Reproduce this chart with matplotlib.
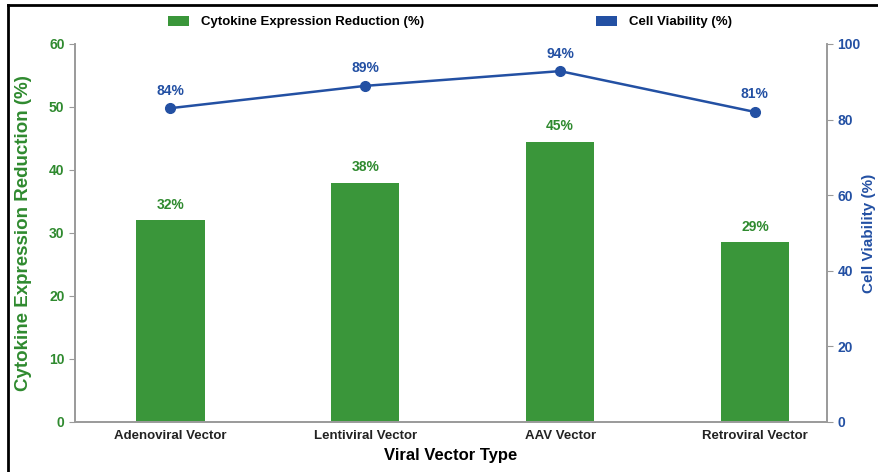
import numpy as np
import matplotlib
matplotlib.use("Agg")
import matplotlib.pyplot as plt
from matplotlib.patches import Patch
from matplotlib.lines import Line2D

categories = ["Adenoviral Vector", "Lentiviral Vector", "AAV Vector", "Retroviral Vector"]
# bar heights / line points
cytokine_reduction = [32, 38, 44.5, 28.6]
cell_viability = [83, 88.9, 92.8, 82]
# value labels as printed on the chart
cytokine_labels = ["32%", "38%", "45%", "29%"]
viability_labels = ["84%", "89%", "94%", "81%"]

GREEN = "#3a963a"
GREEN_TXT = "#2f8a2f"
BLUE = "#2350a3"
GRAY = "#9a9a9a"

plt.rcParams["font.family"] = ["Liberation Sans", "DejaVu Sans"]
plt.rcParams["font.weight"] = "bold"

fig = plt.figure(figsize=(8.79, 4.72), dpi=100)
ax = fig.add_axes([0.0853, 0.106, 0.8555, 0.801])
ax2 = ax.twinx()

x = np.arange(len(categories))
ax.bar(x, cytokine_reduction, width=0.35, color=GREEN, zorder=2)
for xi, v, lab in zip(x, cytokine_reduction, cytokine_labels):
    ax.text(xi, v + 1.3, lab, ha="center", va="bottom", color=GREEN_TXT,
            fontsize=10, fontweight="bold")

ax2.plot(x, cell_viability, color=BLUE, lw=1.8, marker="o", ms=7, zorder=3)
for xi, v, lab in zip(x, cell_viability, viability_labels):
    ax2.text(xi, v + 2.8, lab, ha="center", va="bottom", color=BLUE,
             fontsize=10, fontweight="bold")

ax.set_xlim(-0.49, 3.37)
ax.set_ylim(0, 60)
ax2.set_ylim(0, 100)
ax.set_yticks(np.arange(0, 61, 10))
ax2.set_yticks(np.arange(0, 101, 20))
ax.set_xticks(x)
ax.set_xticklabels(categories, fontsize=9.5, fontweight="bold")

ax.set_ylabel("Cytokine Expression Reduction (%)", color=GREEN_TXT, fontsize=13.5,
              fontweight="bold", labelpad=12)
ax2.set_ylabel("Cell Viability (%)", color=BLUE, fontsize=11, fontweight="bold",
               labelpad=1)
ax.set_xlabel("Viral Vector Type", fontsize=12, fontweight="bold", labelpad=4)

ax.tick_params(axis="y", colors=GRAY, labelcolor=GREEN_TXT, labelsize=10, length=4)
ax2.tick_params(axis="y", colors=GRAY, labelcolor=BLUE, labelsize=10, length=4)
ax.tick_params(axis="x", colors=GRAY, labelcolor="#222222", length=0, pad=6)
for a in (ax, ax2):
    a.spines["top"].set_visible(False)
    for s in ("left", "right", "bottom"):
        a.spines[s].set_color(GRAY)
        a.spines[s].set_linewidth(1.2)

handles = [Patch(facecolor=GREEN, label="Cytokine Expression Reduction (%)"),
           Patch(facecolor=BLUE, label="Cell Viability (%)")]
fig.legend(handles=handles, loc="center", bbox_to_anchor=(0.512, 0.953), ncol=2,
           frameon=False, fontsize=9.5, columnspacing=13, handlelength=1.6,
           handleheight=0.8, handletextpad=0.9)

# crop frame on top and left edges
fig.add_artist(Line2D([0.009, 0.009], [0, 0.99], transform=fig.transFigure, color="black", lw=2))
fig.add_artist(Line2D([0.009, 1], [0.99, 0.99], transform=fig.transFigure, color="black", lw=2))

fig.savefig("out.png", dpi=100)
